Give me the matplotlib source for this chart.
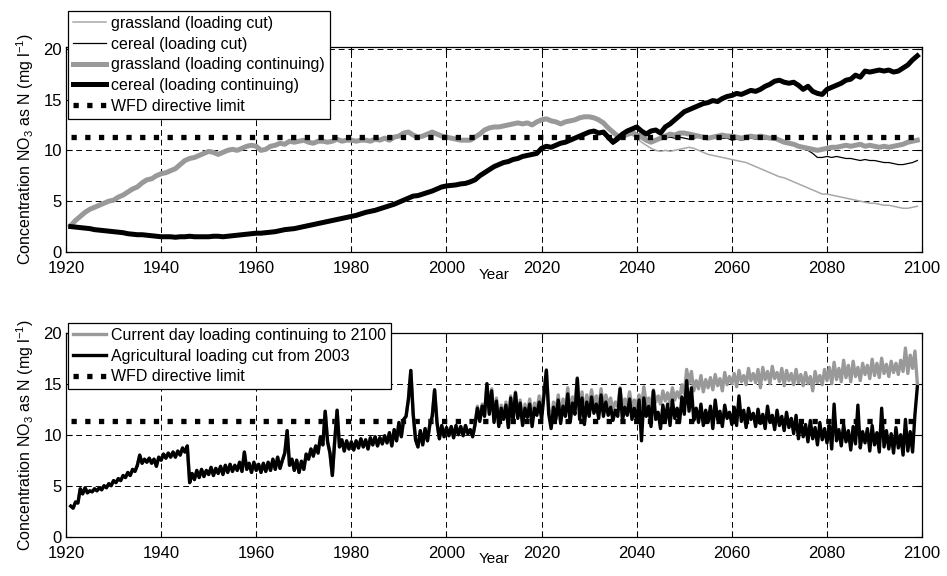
import numpy as np
import matplotlib
matplotlib.use('Agg')
import matplotlib.pyplot as plt

plt.rcParams['font.family'] = ['Liberation Sans', 'DejaVu Sans']
plt.rcParams['mathtext.default'] = 'regular'
plt.rcParams['font.size'] = 10

# --- top panel: annual values 1921..2099 ---
years_top = np.arange(1921, 2100)

grass_cont = [
    2.6, 3.1, 3.5, 3.9, 4.2, 4.4, 4.6, 4.8, 5.0, 5.1,
    5.4, 5.6, 5.9, 6.2, 6.4, 6.8, 7.1, 7.2, 7.5, 7.7,
    7.8, 8.0, 8.2, 8.6, 9.0, 9.2, 9.3, 9.5, 9.7, 9.9,
    9.8, 9.6, 9.8, 10.0, 10.1, 10.0, 10.2, 10.4, 10.5, 10.4,
    10.0, 10.1, 10.4, 10.5, 10.7, 10.6, 10.9, 10.8, 10.9, 11.0,
    10.8, 10.7, 10.9, 10.9, 10.8, 10.9, 11.1, 10.9, 11.0, 11.0,
    10.9, 11.0, 11.0, 10.9, 11.1, 11.0, 11.2, 11.0, 11.3, 11.4,
    11.7, 11.8, 11.5, 11.3, 11.4, 11.6, 11.8, 11.6, 11.4, 11.3,
    11.2, 11.1, 11.0, 11.0, 11.0, 11.3, 11.6, 12.0, 12.2, 12.3,
    12.3, 12.4, 12.5, 12.6, 12.7, 12.6, 12.7, 12.5, 12.8, 13.0,
    13.1, 12.9, 12.8, 12.6, 12.8, 12.9, 13.0, 13.2, 13.3, 13.3,
    13.2, 13.0, 12.7, 12.2, 11.8, 11.4, 11.3, 11.6, 11.8, 11.5,
    11.3, 11.0, 10.8, 11.0, 11.2, 11.4, 11.6, 11.5, 11.7, 11.7,
    11.6, 11.5, 11.4, 11.3, 11.2, 11.3, 11.4, 11.5, 11.4, 11.4,
    11.3, 11.2, 11.3, 11.4, 11.3, 11.4, 11.3, 11.2, 11.2, 11.0,
    10.8, 10.7, 10.6, 10.4, 10.3, 10.2, 10.1, 10.0, 10.1, 10.2,
    10.3, 10.3, 10.4, 10.5, 10.4, 10.5, 10.6, 10.4, 10.5, 10.4,
    10.3, 10.4, 10.3, 10.4, 10.5, 10.6, 10.8, 10.9, 11.0,
]

cereal_cont = [
    2.5, 2.45, 2.4, 2.35, 2.3, 2.2, 2.15, 2.1, 2.05, 2.0,
    1.95, 1.9, 1.8, 1.75, 1.7, 1.7, 1.65, 1.6, 1.55, 1.5,
    1.5, 1.5, 1.45, 1.5, 1.5, 1.55, 1.5, 1.5, 1.5, 1.5,
    1.55, 1.55, 1.5, 1.55, 1.6, 1.65, 1.7, 1.75, 1.8, 1.85,
    1.85, 1.9, 1.95, 2.0, 2.1, 2.2, 2.25, 2.3, 2.4, 2.5,
    2.6, 2.7, 2.8, 2.9, 3.0, 3.1, 3.2, 3.3, 3.4, 3.5,
    3.6, 3.75, 3.9, 4.0, 4.1, 4.25, 4.4, 4.55, 4.7, 4.9,
    5.1, 5.3, 5.5, 5.55, 5.7, 5.85, 6.0, 6.2, 6.4, 6.5,
    6.55, 6.6, 6.7, 6.75, 6.9, 7.1, 7.5, 7.8, 8.1, 8.4,
    8.6, 8.8, 8.9, 9.1, 9.2, 9.4, 9.5, 9.6, 9.7, 10.2,
    10.4, 10.3, 10.5, 10.7, 10.8, 11.0, 11.2, 11.4, 11.6, 11.8,
    11.9, 11.7, 11.8, 11.3, 10.8, 11.2, 11.6, 11.9, 12.1, 12.3,
    11.9, 11.6, 11.9, 12.0, 11.7, 12.3, 12.6, 13.0, 13.4, 13.8,
    14.0, 14.2, 14.4, 14.6, 14.7, 14.9, 14.8, 15.1, 15.3, 15.4,
    15.6, 15.5, 15.7, 15.9, 15.8, 16.0, 16.3, 16.5, 16.8, 16.9,
    16.7, 16.6, 16.7, 16.4, 16.0, 16.3, 15.8, 15.6, 15.5, 16.0,
    16.2, 16.4, 16.6, 16.9, 17.0, 17.4, 17.2, 17.8, 17.7, 17.8,
    17.9, 17.8, 17.9, 17.7, 17.8, 18.1, 18.4, 18.9, 19.3,
]

# cut scenarios only separate from the continuing runs after 2030
grass_cut_tail = [
    13.2, 13.0, 12.6, 12.1, 11.7, 11.3, 11.2, 11.4, 11.5, 11.2,
    10.8, 10.5, 10.2, 10.0, 9.9, 10.0, 9.9, 10.0, 10.1, 10.2,
    10.3, 10.2, 10.0, 9.8, 9.6, 9.5, 9.4, 9.3, 9.2, 9.1,
    9.0, 8.9, 8.8, 8.6, 8.4, 8.2, 8.0, 7.8, 7.6, 7.4,
    7.3, 7.1, 6.9, 6.7, 6.5, 6.3, 6.1, 5.9, 5.7, 5.7,
    5.6, 5.5, 5.4, 5.3, 5.2, 5.1, 5.0, 4.9, 4.8, 4.8,
    4.7, 4.6, 4.6, 4.5, 4.4, 4.3, 4.3, 4.4, 4.5,
]
cereal_cut_tail = [
    11.9, 11.7, 11.6, 11.1, 10.6, 10.9, 11.3, 11.5, 11.6, 11.7,
    11.5, 11.2, 11.0, 10.9, 11.1, 11.2, 11.3, 11.2, 11.3, 11.2,
    11.1, 11.2, 11.3, 11.2, 11.1, 11.2, 11.3, 11.2, 11.2, 11.0,
    11.1, 11.0, 11.1, 11.2, 11.1, 11.2, 11.1, 11.2, 11.0, 11.0,
    10.8, 10.7, 10.6, 10.5, 10.3, 10.0, 9.7, 9.3, 9.3, 9.4,
    9.3, 9.4, 9.3, 9.2, 9.2, 9.1, 9.0, 9.1, 9.0, 9.0,
    8.9, 8.8, 8.8, 8.7, 8.6, 8.6, 8.7, 8.8, 9.0,
]
n_head = len(years_top) - len(grass_cut_tail)
grass_cut = grass_cont[:n_head] + grass_cut_tail
cereal_cut = cereal_cont[:n_head] + cereal_cut_tail

# --- bottom panel: half-yearly values 1921.0..2099.0 ---
years_bot = np.arange(1921.0, 2099.25, 0.5)

shared_bot = [
    3.0, 2.8, 3.4, 3.3, 4.7, 4.2, 4.8, 4.3, 4.5, 4.4,
    4.7, 4.5, 4.8, 4.6, 5.0, 4.8, 5.2, 5.0, 5.5, 5.3,
    5.7, 5.5, 6.0, 5.8, 6.3, 6.0, 6.6, 6.4, 7.0, 8.0,
    7.2, 7.6, 7.3, 7.7, 7.2, 7.6, 6.9, 7.8, 7.5, 8.1,
    7.7, 8.2, 7.8, 8.3, 7.8, 8.4, 8.0, 8.7, 8.3, 8.9,
    5.3, 6.2, 5.6, 6.5, 5.8, 6.6, 5.9, 6.5, 6.1, 6.8,
    6.0, 6.7, 6.2, 6.9, 6.1, 7.0, 6.3, 7.1, 6.4, 7.0,
    6.5, 7.3, 6.4, 8.3, 6.6, 7.2, 6.3, 7.3, 6.5, 7.1,
    6.3, 7.2, 6.4, 7.3, 6.5, 7.6, 6.6, 7.8, 6.7, 7.5,
    8.2, 10.4, 7.0, 7.6, 6.5, 7.5, 6.3, 7.4, 6.6, 8.1,
    7.6, 8.6, 7.9, 8.9, 8.2, 9.8, 9.0, 12.3, 9.3, 8.2,
    6.0, 9.4, 12.4, 8.8, 9.5, 8.4, 9.4, 8.6, 9.3, 8.5,
    9.4, 8.7, 9.6, 8.8, 9.5, 8.6, 9.7, 9.0, 9.8, 8.9,
    9.7, 9.1, 9.9, 9.2, 10.2, 8.9, 10.5, 9.4, 11.2, 9.8,
    11.5, 11.8, 13.5, 16.3, 12.0, 9.5, 8.8, 10.4, 9.0, 10.6,
    9.4, 11.0, 11.8, 14.4, 11.2, 9.6, 10.9, 9.8, 10.7, 9.9,
    10.8, 9.7, 10.9, 10.0, 10.8, 9.9, 10.9, 10.1,
]

cont_tail = [
    10.5, 9.8, 11.0, 12.8, 11.5, 13.0, 12.0, 15.0, 12.2, 14.5,
    11.4, 13.6, 11.0, 12.9, 11.8, 13.2, 10.9, 13.8, 11.6, 14.2,
    11.9, 13.4, 11.2, 13.0, 12.1, 13.5, 11.5, 13.1, 12.4, 13.8,
    12.0, 14.3, 16.4, 12.6, 11.3, 13.2, 12.2, 13.9, 11.7, 13.5,
    12.4, 14.6, 11.9, 13.7, 12.8, 15.6, 12.3, 14.2, 11.8, 13.9,
    12.6, 14.4, 12.9, 13.8, 12.5, 14.5, 12.7, 13.9, 12.9, 13.6,
    12.4, 13.2, 12.8, 14.6, 12.5, 13.5, 12.9, 14.2, 12.6, 13.4,
    12.8, 13.9, 12.7, 14.7, 13.0, 13.6, 12.8, 14.4, 13.2, 13.8,
    13.0, 14.3, 13.3, 14.1, 13.1, 14.6, 13.4, 14.2, 13.6, 14.9,
    14.0, 16.4, 15.0, 16.2, 14.3, 15.3, 14.5, 15.8, 14.2, 15.4,
    14.6, 15.6, 14.4, 15.9, 14.8, 15.5, 14.3, 16.1, 14.9, 15.7,
    15.0, 16.0, 14.7, 16.3, 15.2, 15.8, 14.9, 16.5, 15.3, 16.0,
    15.1, 16.4, 14.6, 16.6, 15.4, 16.2, 15.0, 16.7, 15.5, 16.1,
    15.2, 16.5, 14.8, 16.3, 15.3, 16.0, 14.9, 16.4, 15.1, 15.9,
    14.8, 16.1, 15.0, 15.7, 14.3, 16.2, 15.1, 15.8, 14.9, 16.4,
    15.3, 16.6, 15.0, 17.1, 15.4, 16.5, 15.2, 17.3, 15.6, 16.8,
    15.2, 17.2, 15.7, 16.6, 15.3, 17.0, 15.9, 16.8, 15.5, 17.4,
    15.8, 17.0, 15.6, 17.5, 16.0, 16.9, 15.7, 17.2, 16.1, 17.0,
    15.9, 17.3, 16.2, 18.5, 16.0, 17.8, 16.5, 18.2, 15.0,
]

cut_tail = [
    10.5, 9.8, 11.0, 12.6, 11.3, 12.8, 11.8, 15.0, 12.0, 14.3,
    11.2, 13.3, 10.8, 12.6, 11.5, 12.9, 10.7, 13.6, 11.3, 14.1,
    11.6, 13.1, 10.9, 12.6, 11.7, 13.0, 10.8, 12.6, 11.9, 13.2,
    11.5, 13.9, 16.3, 12.0, 10.6, 12.7, 11.5, 13.4, 11.1, 12.8,
    11.8, 14.0, 11.2, 13.1, 12.0, 15.5, 11.5, 13.6, 11.0, 13.2,
    11.8, 13.7, 12.1, 13.0, 11.6, 13.9, 11.8, 13.2, 11.9, 12.7,
    11.4, 12.4, 11.8, 14.5, 11.4, 12.7, 11.9, 13.5, 11.5, 12.6,
    11.3, 13.4, 9.4, 13.6, 11.8, 12.8, 10.8, 14.3, 11.5, 12.2,
    10.6, 12.9, 11.3, 13.0, 10.9, 13.4, 11.6, 12.6, 11.2, 13.7,
    12.0, 15.3, 12.3, 14.6, 11.4, 12.6, 11.2, 13.0, 10.9, 12.4,
    11.2, 12.8, 10.6, 13.4, 11.5, 12.3, 10.8, 12.9, 11.6, 12.2,
    11.0, 12.7, 10.9, 13.8, 11.3, 12.4, 10.7, 12.6, 11.5, 12.1,
    10.8, 12.5, 11.1, 12.0, 10.6, 12.8, 11.2, 11.9, 10.5, 12.4,
    10.9, 11.8, 10.4, 12.2, 10.7, 11.6, 10.1, 11.9, 9.6, 11.3,
    9.8, 11.0, 9.3, 11.4, 9.6, 10.7, 9.0, 11.2, 9.5, 10.6,
    9.2, 10.9, 8.6, 13.0, 9.4, 10.5, 8.9, 11.0, 9.3, 10.4,
    8.5, 10.8, 9.1, 12.9, 8.7, 10.3, 9.2, 10.6, 8.4, 10.9,
    9.0, 10.2, 8.3, 12.6, 8.8, 10.4, 8.6, 10.1, 8.2, 10.7,
    8.7, 10.0, 8.0, 11.5, 8.4, 10.3, 8.3, 12.0, 14.7,
]
loading_cont = shared_bot + cont_tail
loading_cut = shared_bot + cut_tail

wfd_limit = 11.3
wfd_years = [1921, 2099]

GREY = '#999999'
GREY_THIN = '#a8a8a8'
ylabel = r'Concentration NO$_3$ as N (mg l$^{-1}$)'
dots = (0, (1.0, 1.6))

fig = plt.figure(figsize=(9.47, 5.76), dpi=100)
ax1 = fig.add_axes([0.0697, 0.5625, 0.904, 0.3565])
ax2 = fig.add_axes([0.0697, 0.0682, 0.904, 0.3542])

# top panel
ax1.plot(years_top, grass_cut, color=GREY_THIN, lw=1.1, label='grassland (loading cut)')
ax1.plot(years_top, cereal_cut, color='black', lw=0.9, label='cereal (loading cut)')
ax1.plot(years_top, grass_cont, color=GREY, lw=3.6, label='grassland (loading continuing)')
ax1.plot(years_top, cereal_cont, color='black', lw=3.6, label='cereal (loading continuing)')
ax1.plot(wfd_years, [wfd_limit, wfd_limit], color='black', lw=3.8, linestyle=dots,
         dash_capstyle='butt', label='WFD directive limit')
ax1.set_ylim(0, 20.2)

# bottom panel
ax2.plot(wfd_years, [wfd_limit, wfd_limit], color='black', lw=3.8, linestyle=dots,
         dash_capstyle='butt', zorder=1, label='WFD directive limit')
ax2.plot(years_bot, loading_cont, color=GREY, lw=2.4, zorder=2,
         label='Current day loading continuing to 2100')
ax2.plot(years_bot, loading_cut, color='black', lw=2.4, zorder=3,
         label='Agricultural loading cut from 2003')
ax2.set_ylim(0, 20)

for ax in (ax1, ax2):
    ax.set_xlim(1920, 2100)
    ax.set_xticks(range(1920, 2101, 20))
    ax.set_yticks([0, 5, 10, 15, 20])
    ax.grid(True, color='black', linestyle=(0, (6, 4)), linewidth=0.7)
    ax.tick_params(direction='in', top=True, right=True, length=4, labelsize=12)
    ax.tick_params(axis='x', pad=6.5)
    ax.tick_params(axis='y', pad=3)
    ax.set_xlabel('Year', fontsize=11, labelpad=-6)
    ax.set_ylabel(ylabel, fontsize=11.5, labelpad=5)
    for s in ax.spines.values():
        s.set_linewidth(0.9)

legend_kw = dict(loc='upper left', bbox_transform=fig.transFigure, fontsize=11.5,
                 handlelength=2.1, handletextpad=0.3, borderpad=0.3, labelspacing=0.36,
                 borderaxespad=0, fancybox=False, framealpha=1, edgecolor='black')

leg1 = ax1.legend(bbox_to_anchor=(68 / 947, 1 - 11 / 576), **legend_kw)
leg1.get_frame().set_linewidth(0.9)

h, l = ax2.get_legend_handles_labels()
order = [1, 2, 0]
leg2 = ax2.legend([h[i] for i in order], [l[i] for i in order],
                  bbox_to_anchor=(68 / 947, 1 - 323 / 576), **legend_kw)
leg2.get_frame().set_linewidth(0.9)

fig.savefig('out.png', dpi=100)
